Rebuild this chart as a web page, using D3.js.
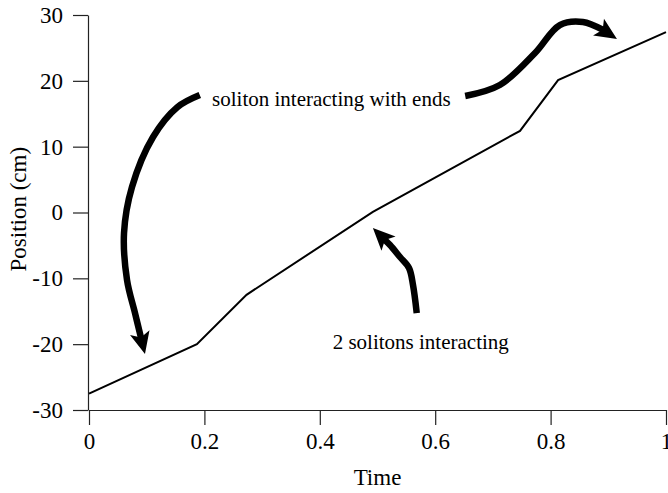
<!DOCTYPE html>
<html>
<head>
<meta charset="utf-8">
<script src="https://cdn.jsdelivr.net/npm/d3@7"></script>
<style>
  html, body { margin: 0; padding: 0; background: #fff; }
  svg { display: block; }
  text { font-family: "Liberation Serif", "Times New Roman", serif; fill: #000; }
</style>
</head>
<body>
<svg id="chart" width="668" height="493"></svg>
<script>
// Soliton position over time
const time     = [0, 0.187, 0.273, 0.492, 0.747, 0.813, 1.0];
const position = [-27.5, -20.0, -12.5, 0.1, 12.4, 20.1, 27.4];

const xTicks = [0, 0.2, 0.4, 0.6, 0.8, 1];
const xTickLabels = ["0", "0.2", "0.4", "0.6", "0.8", "1"];
const yTicks = [-30, -20, -10, 0, 10, 20, 30];
const yTickLabels = ["-30", "-20", "-10", "0", "10", "20", "30"];

const xTitle = "Time";
const yTitle = "Position (cm)";

// Annotation labels and their anchor points (in time / position units)
const noteTexts = ["soliton interacting with ends", "2 solitons interacting"];
const noteX = [0.42, 0.575];
const noteY = [16.2, -20.7];

// Hand-drawn style arrows, each given as a path in data units ending at its tip
const arrowTime = [
  [0.192, 0.153, 0.111, 0.0745, 0.0607, 0.0659, 0.0797, 0.097],
  [0.652, 0.712, 0.773, 0.816, 0.856, 0.891, 0.915],
  [0.568, 0.5615, 0.5546, 0.539, 0.5217, 0.492]
];
const arrowPos = [
  [17.85, 16.0, 11.47, 3.87, -3.12, -10.25, -15.27, -21.5],
  [17.7, 19.37, 24.23, 28.48, 28.94, 27.72, 26.35],
  [-15.27, -11.0, -8.43, -6.76, -4.94, -2.36]
];

const svg = d3.select("#chart");
const margin = { left: 88, right: 2, top: 15, bottom: 83 };
const W = 668, H = 493;

const x = d3.scaleLinear().domain([0, 1]).range([margin.left + 1, W - margin.right]);
const y = d3.scaleLinear().domain([-30, 30]).range([H - margin.bottom, margin.top]);

// Axes
const xAxis = d3.axisBottom(x)
  .tickValues(xTicks)
  .tickFormat((d, i) => xTickLabels[i])
  .tickSize(15).tickSizeOuter(0).tickPadding(8);
const yAxis = d3.axisLeft(y)
  .tickValues(yTicks)
  .tickFormat((d, i) => yTickLabels[i])
  .tickSize(15).tickSizeOuter(0).tickPadding(10);

const gx = svg.append("g")
  .attr("transform", `translate(0,${y(-30)})`)
  .call(xAxis);
const gy = svg.append("g")
  .attr("transform", `translate(${margin.left},0)`)
  .call(yAxis);

[gx, gy].forEach(g => {
  g.select(".domain").attr("stroke", "#222").attr("stroke-width", 1.2);
  g.selectAll(".tick line").attr("stroke", "#222").attr("stroke-width", 1.2);
  g.selectAll(".tick text")
    .style("font-family", '"Liberation Serif", "Times New Roman", serif')
    .style("font-size", "23px")
    .attr("fill", "#000");
});

// Axis titles
svg.append("text")
  .attr("x", x(0.5)).attr("y", 485)
  .attr("text-anchor", "middle")
  .style("font-size", "23px")
  .text(xTitle);

svg.append("text")
  .attr("transform", `translate(26,${y(0.5)}) rotate(-90)`)
  .attr("text-anchor", "middle")
  .style("font-size", "23px")
  .text(yTitle);

// Data line
const pts = time.map((t, i) => [t, position[i]]);
svg.append("path")
  .datum(pts)
  .attr("fill", "none")
  .attr("stroke", "#000")
  .attr("stroke-width", 2)
  .attr("stroke-linejoin", "miter")
  .attr("d", d3.line().x(d => x(d[0])).y(d => y(d[1])));

// Annotation text
noteTexts.forEach((t, i) => {
  svg.append("text")
    .attr("x", x(noteX[i])).attr("y", y(noteY[i]))
    .attr("text-anchor", "middle")
    .style("font-size", "21px")
    .text(t);
});

// Arrows: curved shaft plus a filled head
const curve = d3.line().curve(d3.curveCatmullRom.alpha(0.5));
arrowTime.forEach((ts, k) => {
  const p = ts.map((t, i) => [x(t), y(arrowPos[k][i])]);
  const tip = p[p.length - 1];
  const prev = p[p.length - 2];
  const dx = tip[0] - prev[0], dy = tip[1] - prev[1];
  const len = Math.hypot(dx, dy);
  const ux = dx / len, uy = dy / len;
  const headLen = 22, headW = 10;
  const base = [tip[0] - ux * headLen, tip[1] - uy * headLen];
  const shaft = p.slice(0, -1).concat([[tip[0] - ux * (headLen - 6), tip[1] - uy * (headLen - 6)]]);
  svg.append("path")
    .attr("d", curve(shaft))
    .attr("fill", "none")
    .attr("stroke", "#000")
    .attr("stroke-width", 6.5)
    .attr("stroke-linecap", "butt");
  const notch = [tip[0] - ux * (headLen - 5), tip[1] - uy * (headLen - 5)];
  const w1 = [base[0] - uy * headW, base[1] + ux * headW];
  const w2 = [base[0] + uy * headW, base[1] - ux * headW];
  svg.append("path")
    .attr("d", `M${tip}L${w1}L${notch}L${w2}Z`)
    .attr("fill", "#000");
});
</script>
</body>
</html>
